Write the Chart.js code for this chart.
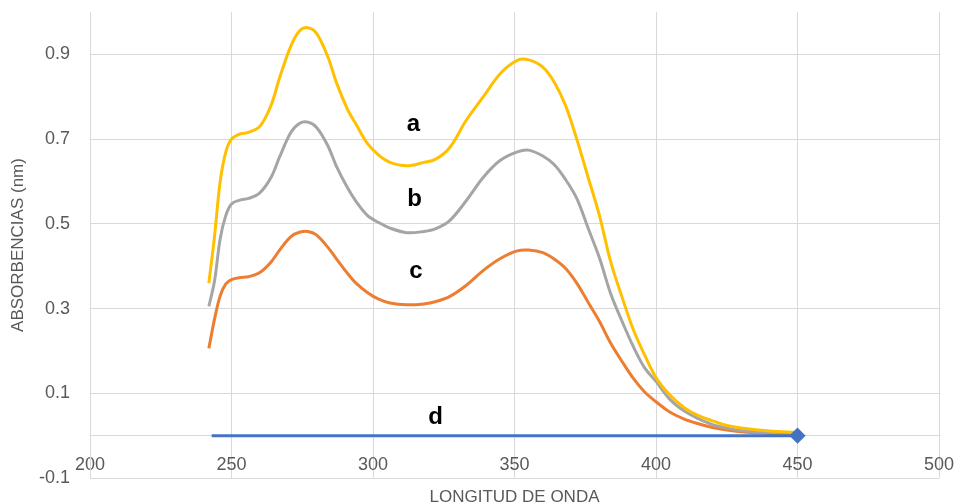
<!DOCTYPE html>
<html>
<head>
<meta charset="utf-8">
<script src="https://cdn.jsdelivr.net/npm/chart.js@4.4.1/dist/chart.umd.min.js"></script>
<style>
  html, body { margin: 0; padding: 0; background: #ffffff; }
  #wrap { width: 959px; height: 504px; }
</style>
</head>
<body>
<div id="wrap"><canvas id="c" width="959" height="504"></canvas></div>
<script>
// ---- data ----
const wavelengths = [242, 244, 246, 248, 250, 253, 256, 260, 264, 267, 271, 274, 277, 280, 284, 287, 291, 294, 298, 302, 306, 312, 318, 322, 327, 333, 339, 345, 351, 355, 360, 364, 368, 372, 376, 380, 384, 388, 392, 396, 400, 405, 410, 415, 420, 425, 430, 440, 450];
const seriesA = [0.36, 0.47, 0.60, 0.67, 0.70, 0.712, 0.716, 0.73, 0.78, 0.845, 0.92, 0.955, 0.963, 0.95, 0.895, 0.835, 0.77, 0.735, 0.69, 0.662, 0.645, 0.637, 0.645, 0.652, 0.679, 0.745, 0.80, 0.855, 0.886, 0.887, 0.87, 0.835, 0.78, 0.70, 0.61, 0.52, 0.41, 0.327, 0.25, 0.19, 0.137, 0.095, 0.066, 0.047, 0.035, 0.024, 0.018, 0.011, 0.008];
const seriesB = [0.305, 0.365, 0.465, 0.52, 0.547, 0.556, 0.56, 0.573, 0.61, 0.658, 0.716, 0.737, 0.74, 0.728, 0.685, 0.637, 0.585, 0.553, 0.52, 0.503, 0.49, 0.479, 0.482, 0.488, 0.507, 0.555, 0.61, 0.65, 0.67, 0.674, 0.66, 0.64, 0.605, 0.56, 0.49, 0.42, 0.335, 0.27, 0.21, 0.16, 0.128, 0.085, 0.058, 0.04, 0.026, 0.018, 0.012, 0.007, 0.005];
const seriesC = [0.206, 0.275, 0.33, 0.358, 0.368, 0.373, 0.375, 0.385, 0.41, 0.438, 0.47, 0.48, 0.482, 0.474, 0.445, 0.418, 0.383, 0.36, 0.338, 0.322, 0.313, 0.309, 0.311, 0.316, 0.328, 0.355, 0.39, 0.418, 0.436, 0.438, 0.432, 0.417, 0.395, 0.36, 0.315, 0.27, 0.218, 0.175, 0.135, 0.103, 0.08, 0.055, 0.039, 0.028, 0.019, 0.013, 0.009, 0.005, 0.003];
const seriesDX = [243, 450];
const seriesDY = [0, 0];

const xTicks = [200, 250, 300, 350, 400, 450, 500];
const yTicks = [-0.1, 0.1, 0.3, 0.5, 0.7, 0.9];
const yTickLabels = ['-0.1', '0.1', '0.3', '0.5', '0.7', '0.9'];

const curveLabels = ['a', 'b', 'c', 'd'];
const curveLabelX = [314.3, 314.7, 315.2, 322.1];
const curveLabelY = [0.719, 0.542, 0.373, 0.027];

const xTitle = 'LONGITUD DE ONDA';
const yTitle = 'ABSORBENCIAS (nm)';

// ---- build ----
const toPts = (xs, ys) => xs.map((x, i) => ({ x: x, y: ys[i] }));

Chart.defaults.font.family = "'Liberation Sans', Arial, sans-serif";
Chart.defaults.color = '#595959';

const labelPlugin = {
  id: 'curveLabels',
  afterDatasetsDraw(chart) {
    const ctx = chart.ctx;
    const xs = chart.scales.x, ys = chart.scales.y;
    ctx.save();
    ctx.font = "bold 24px 'Liberation Sans', Arial, sans-serif";
    ctx.fillStyle = '#000000';
    ctx.textAlign = 'center';
    ctx.textBaseline = 'alphabetic';
    curveLabels.forEach((t, i) => {
      ctx.fillText(t, xs.getPixelForValue(curveLabelX[i]), ys.getPixelForValue(curveLabelY[i]));
    });
    ctx.restore();
  }
};

const zeroPad = (s) => { s.paddingTop = 0; s.paddingBottom = 0; s.paddingLeft = 0; s.paddingRight = 0; };

const common = { pointRadius: 0, borderWidth: 3, tension: 0.35, fill: false };

new Chart(document.getElementById('c'), {
  type: 'line',
  data: {
    datasets: [
      { label: 'd', data: toPts(seriesDX, seriesDY), borderColor: '#4472C4', backgroundColor: '#4472C4',
        borderWidth: 3, pointRadius: [0, 6], pointStyle: 'rectRot', pointBackgroundColor: '#4472C4', pointBorderColor: '#4472C4', tension: 0 },
      Object.assign({ label: 'a', data: toPts(wavelengths, seriesA), borderColor: '#FFC000' }, common),
      Object.assign({ label: 'b', data: toPts(wavelengths, seriesB), borderColor: '#A5A5A5' }, common),
      Object.assign({ label: 'c', data: toPts(wavelengths, seriesC), borderColor: '#ED7D31' }, common)
    ]
  },
  options: {
    responsive: false,
    animation: false,
    events: [],
    layout: { padding: { top: 12, right: 20, left: 0, bottom: 0 } },
    plugins: { legend: { display: false }, tooltip: { enabled: false } },
    scales: {
      x: {
        type: 'linear',
        position: { y: 0 },
        min: 200, max: 500,
        afterBuildTicks: (s) => { s.ticks = xTicks.map(v => ({ value: v })); },
        ticks: { font: { size: 18 }, color: '#595959', padding: 19, maxRotation: 0 },
        grid: { color: '#D9D9D9', lineWidth: 1, drawTicks: false },
        border: { display: true, color: '#D9D9D9', width: 1 },
        afterFit: zeroPad
      },
      x2: {
        type: 'linear',
        position: 'bottom',
        min: 200, max: 500,
        grid: { display: false, drawTicks: false },
        border: { display: false },
        ticks: { display: false },
        title: { display: true, text: xTitle, font: { size: 17, lineHeight: 0.8 }, color: '#595959', padding: 0 },
        afterFit: (s) => { zeroPad(s); s.height = 26; }
      },
      y: {
        type: 'linear',
        min: -0.1, max: 1.0,
        afterBuildTicks: (s) => { s.ticks = yTicks.map(v => ({ value: v })); },
        ticks: { font: { size: 18 }, color: '#595959', padding: 20,
          callback: (v) => { const i = yTicks.findIndex(t => Math.abs(t - v) < 1e-9); return i >= 0 ? yTickLabels[i] : ''; } },
        grid: { color: '#D9D9D9', lineWidth: 1, drawTicks: false },
        border: { display: true, color: '#D9D9D9', width: 1 },
        title: { display: true, text: yTitle, font: { size: 17 }, color: '#595959', padding: { top: 8, bottom: 0 } },
        afterFit: (s) => { zeroPad(s); s.width = 90; }
      }
    }
  },
  plugins: [labelPlugin]
});
</script>
</body>
</html>
